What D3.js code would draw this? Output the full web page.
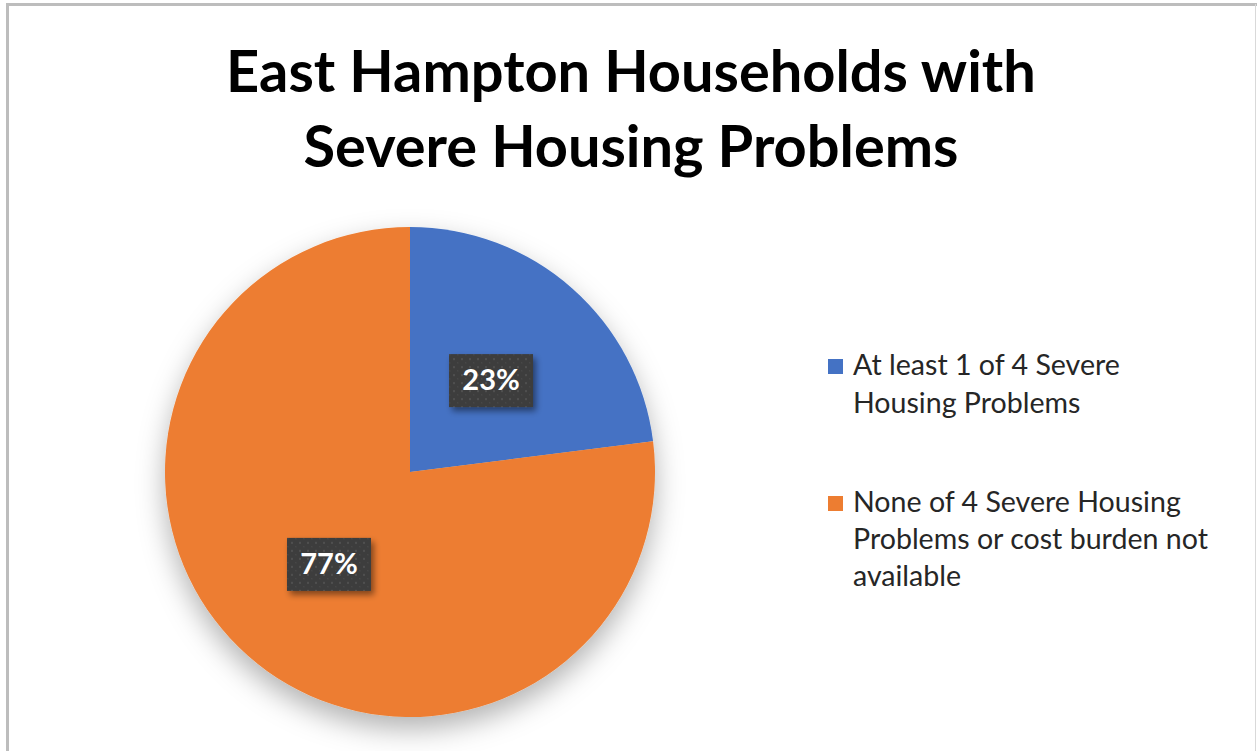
<!DOCTYPE html>
<html><head><meta charset="utf-8">
<script src="https://cdn.jsdelivr.net/npm/d3@7"></script>
<style>html,body{margin:0;padding:0;background:#fff;overflow:hidden}</style>
</head><body>
<svg id="chart" width="1257" height="751"></svg>
<script>
const titleLines = ["East Hampton Households with", "Severe Housing Problems"];
const categories = ["At least 1 of 4 Severe Housing Problems", "None of 4 Severe Housing Problems or cost burden not available"];
const legendLines = [["At least 1 of 4 Severe", "Housing Problems"], ["None of 4 Severe Housing", "Problems or cost burden not", "available"]];
const values = [23, 77];
const labels = ["23%", "77%"];
const colors = ["#4472C4", "#ED7D31"];

const svg = d3.select("#chart");
const defs = svg.append("defs");

const f = defs.append("filter").attr("id","pieShadow").attr("x","-30%").attr("y","-30%").attr("width","160%").attr("height","170%");
f.append("feDropShadow").attr("dx",0).attr("dy",12).attr("stdDeviation",14).attr("flood-color","#000").attr("flood-opacity",0.3);
const f2 = defs.append("filter").attr("id","lblShadow").attr("x","-30%").attr("y","-30%").attr("width","160%").attr("height","170%");
f2.append("feDropShadow").attr("dx",3).attr("dy",4).attr("stdDeviation",3).attr("flood-color","#000").attr("flood-opacity",0.45);
const pat = defs.append("pattern").attr("id","dots").attr("width",8).attr("height",8).attr("patternUnits","userSpaceOnUse");
pat.append("rect").attr("width",8).attr("height",8).attr("fill","#3d3d3d");
pat.append("rect").attr("x",2).attr("y",2).attr("width",2).attr("height",2).attr("fill","#4f4f4f");
pat.append("rect").attr("x",6).attr("y",6).attr("width",1.5).attr("height",1.5).attr("fill","#474747");

// frame
svg.append("rect").attr("x",7.5).attr("y",4.5).attr("width",1257).attr("height",800).attr("fill","none").attr("stroke","#bdbdbd").attr("stroke-width",3);
svg.append("line").attr("x1",1255.5).attr("x2",1255.5).attr("y1",4).attr("y2",751).attr("stroke","#d9d9d9").attr("stroke-width",1);

// title
const titleY = [92, 167];
const tg = svg.append("g");
titleLines.forEach((t,i)=>{
  tg.append("text").attr("x",631).attr("y",titleY[i]).attr("text-anchor","middle")
    .attr("font-family","Lato, 'Open Sans', sans-serif").attr("font-weight","bold")
    .attr("font-size",56).attr("fill","#000").text(t);
});
{
  const t0 = tg.select("text").node();
  const k = 810 / t0.getComputedTextLength();
  tg.selectAll("text").attr("font-size", 56*k);
}

// pie
const cx = 410, cy = 472, r = 245;
const pie = d3.pie().sort(null).value(d=>d);
const arcs = pie(values);
const arc = d3.arc().innerRadius(0).outerRadius(r);
const labelArc = d3.arc().innerRadius(r*0.5).outerRadius(r*0.5);
const g = svg.append("g").attr("transform",`translate(${cx},${cy})`);
g.append("g").attr("filter","url(#pieShadow)").selectAll("path").data(arcs).join("path")
  .attr("d",arc).attr("fill",(d,i)=>colors[i]);

const lg = g.selectAll("g.lbl").data(arcs).join("g").attr("class","lbl")
  .attr("transform",d=>`translate(${labelArc.centroid(d)})`);
lg.append("rect").attr("x",-42).attr("y",-26).attr("width",84).attr("height",53)
  .attr("fill","url(#dots)").attr("filter","url(#lblShadow)");
lg.append("text").attr("text-anchor","middle").attr("y",10)
  .attr("font-family","Lato, 'Open Sans', sans-serif").attr("font-weight","bold")
  .attr("font-size",29).attr("fill","#fff").text((d,i)=>labels[i]);

// legend
const legY = [[375, 413], [512, 549, 586]];
const lgd = svg.append("g");
legendLines.forEach((lines,i)=>{
  lgd.append("rect").attr("x",828).attr("y",legY[i][0]-16).attr("width",15).attr("height",15).attr("fill",colors[i]);
  lines.forEach((ln,j)=>{
    lgd.append("text").attr("class","legt").attr("x",853).attr("y",legY[i][j])
      .attr("font-family","Lato, 'Open Sans', sans-serif").attr("font-size",24).attr("fill","#262626").text(ln);
  });
});
{
  const n = lgd.select("text.legt").node();
  lgd.selectAll("text.legt").attr("font-size", 24*267/n.getComputedTextLength());
}
</script>
</body></html>
